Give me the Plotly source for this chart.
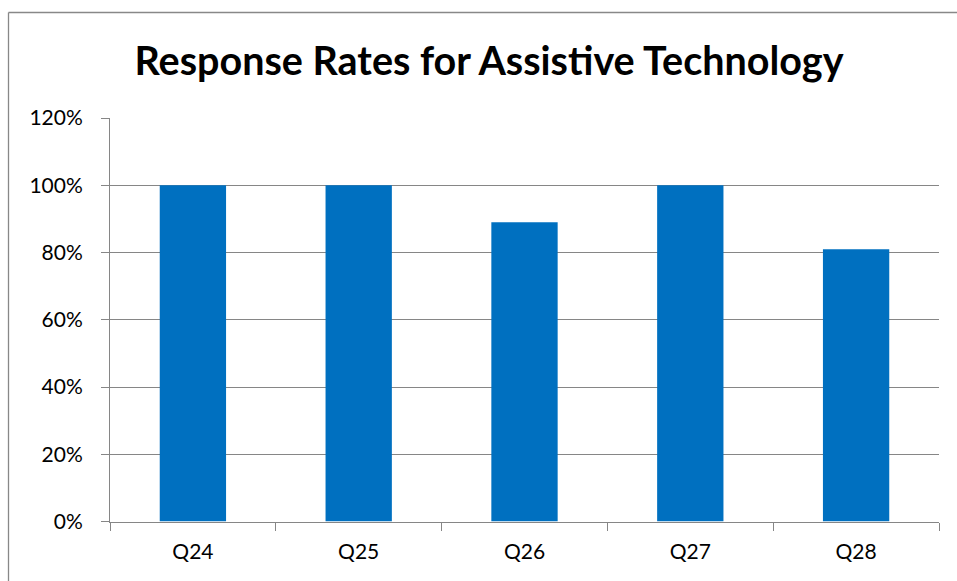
import plotly.graph_objects as go

# Response rate per question (percent)
questions = ["Q24", "Q25", "Q26", "Q27", "Q28"]
response_rates = [100, 100, 89, 100, 81]
y_ticks = [0, 20, 40, 60, 80, 100, 120]
y_tick_labels = [f"{v}%" for v in y_ticks]

W, H = 957, 581
FONT = "Lato, Carlito, Calibri, sans-serif"
GRID = "#868686"


def px_x(p):
    return p / W


def px_y(p):
    return 1 - p / H


fig = go.Figure(
    go.Bar(
        x=questions,
        y=response_rates,
        marker=dict(color="#0070C0", line=dict(width=0)),
        width=0.4,
        hoverinfo="x+y",
    )
)

fig.update_layout(
    template="none",
    width=W,
    height=H,
    margin=dict(l=0, r=0, t=0, b=0, pad=0),
    paper_bgcolor="white",
    plot_bgcolor="white",
    showlegend=False,
    font=dict(family=FONT, size=21, color="#000000"),
    title=dict(
        text="<b>Response Rates for Assistive Technology</b>",
        font=dict(family=FONT, size=39.5, color="#000000"),
        xref="paper",
        yref="paper",
        x=px_x(489),
        xanchor="center",
        y=px_y(61),
        yanchor="middle",
        automargin=False,
    ),
    xaxis=dict(
        domain=[px_x(110), px_x(939)],
        automargin=False,
        showline=True,
        linecolor=GRID,
        linewidth=1,
        ticks="outside",
        tickson="boundaries",
        ticklen=8,
        tickcolor=GRID,
        tickwidth=1,
        showgrid=False,
        zeroline=False,
        ticklabelstandoff=11,
        tickfont=dict(family=FONT, size=21, color="#000000"),
    ),
    yaxis=dict(
        domain=[px_y(521.5), px_y(118)],
        automargin=False,
        range=[0, 120],
        tickvals=y_ticks,
        ticktext=y_tick_labels,
        showline=True,
        linecolor=GRID,
        linewidth=1,
        ticks="outside",
        ticklen=8,
        tickcolor=GRID,
        tickwidth=1,
        showgrid=True,
        gridcolor=GRID,
        gridwidth=1,
        zeroline=False,
        ticklabelstandoff=14,
        tickfont=dict(family=FONT, size=21, color="#000000"),
    ),
    bargap=0.6,
    shapes=[
        # chart frame (left and top edges)
        dict(type="line", xref="paper", yref="paper",
             x0=px_x(8.5), x1=px_x(8.5), y0=0, y1=px_y(12.5),
             line=dict(color="#888888", width=1.3)),
        dict(type="line", xref="paper", yref="paper",
             x0=px_x(8.5), x1=1, y0=px_y(12.5), y1=px_y(12.5),
             line=dict(color="#888888", width=1.3)),
    ],
)

fig.write_html("out.html")
